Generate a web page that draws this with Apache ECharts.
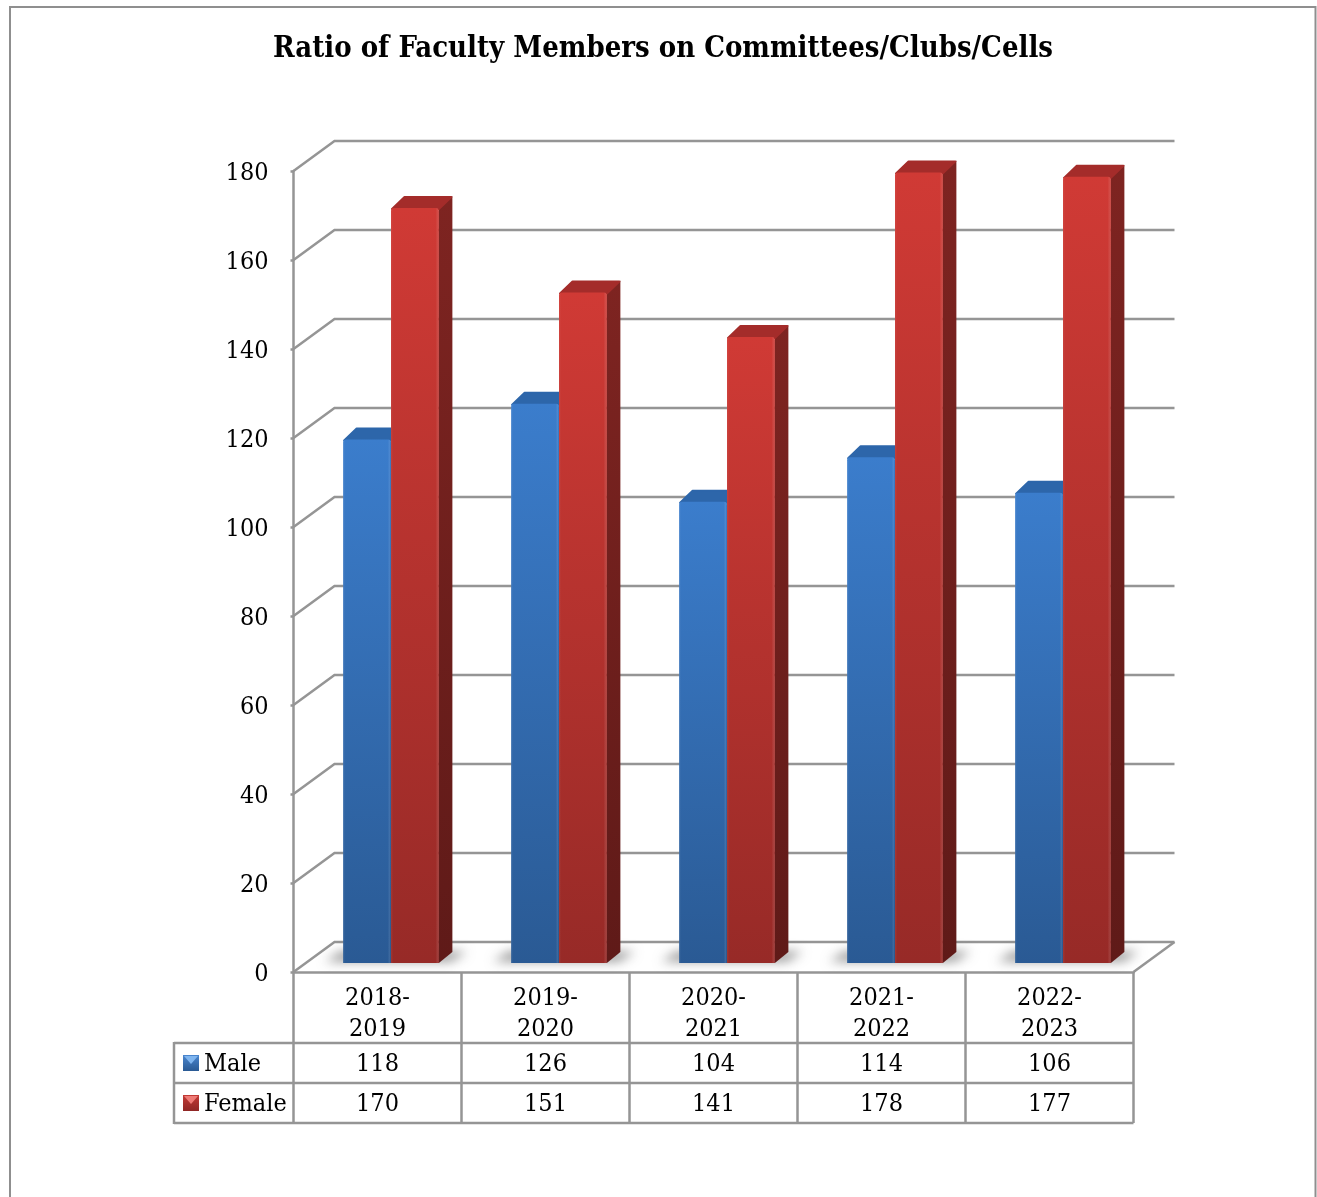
<!DOCTYPE html>
<html>
<head>
<meta charset="utf-8">
<style>
  html, body { margin: 0; padding: 0; background: #fff; }
  #chart { width: 1317px; height: 1197px; }
</style>
<script src="https://cdn.jsdelivr.net/npm/echarts@6/dist/echarts.min.js"></script>
</head>
<body>
<div id="chart"></div>
<script>
// Chart data
const chartTitle = 'Ratio of Faculty Members on Committees/Clubs/Cells';
const years = ['2018-\n2019', '2019-\n2020', '2020-\n2021', '2021-\n2022', '2022-\n2023'];
const male = [118, 126, 104, 114, 106];
const female = [170, 151, 141, 178, 177];
const yTicks = [0, 20, 40, 60, 80, 100, 120, 140, 160, 180];

// Shared styling
const FONT = '"DejaVu Serif Condensed", "DejaVu Serif", serif';
const TEXT_SIZE = 25;
const LINE = '#959595';
const LINE_W = 2.5;
const GRID = { left: 293.5, top: 171, width: 840, height: 801 };
const WALL_DX = 41, WALL_DY = 30;       // offset of the back wall from the front plane
const BAR_DX = 13.5, BAR_DY = 7.5;      // offset of the bar fronts from the front plane
const SIDE_DX = 13.5, SIDE_DY = 12;     // depth of each bar
const BAR_WIDTH = 0.285;                // share of a category band

const vGrad = (a, b) => ({ type: 'linear', x: 0, y: 0, x2: 0, y2: 1,
  colorStops: [{ offset: 0, color: a }, { offset: 1, color: b }] });
const edgeSheen = { type: 'linear', x: 0, y: 0, x2: 1, y2: 0, colorStops: [
  { offset: 0, color: 'rgba(255,255,255,0.06)' },
  { offset: 0.05, color: 'rgba(255,255,255,0)' },
  { offset: 0.93, color: 'rgba(255,255,255,0)' },
  { offset: 0.97, color: 'rgba(255,255,255,0.09)' },
  { offset: 1, color: 'rgba(0,0,0,0.05)' }] };

const palette = {
  male: { front: vGrad('#3b7dcc', '#2a5a94'), side: vGrad('#2b5c99', '#1f4472'), top: '#2d66aa' },
  female: { front: vGrad('#d03a35', '#972a27'), side: vGrad('#7e2421', '#5f1a18'), top: '#a42c2a' }
};

// Back wall, side wall and floor lines
function renderWalls(params, api) {
  const v = api.value(0);
  const [x0, y] = api.coord([0, v]);
  const band = api.size([1, 0])[0];
  const left = x0 - band / 2;
  const right = left + band * years.length;
  const style = { stroke: LINE, lineWidth: LINE_W, fill: null };
  const children = [{
    type: 'polyline',
    shape: { points: [[left, y], [left + WALL_DX, y - WALL_DY], [right + WALL_DX, y - WALL_DY]] },
    style
  }];
  if (v === 0) {
    children.push({
      type: 'line',
      shape: { x1: right + WALL_DX, y1: y - WALL_DY, x2: right, y2: y },
      style
    });
  }
  return { type: 'group', children };
}

// Soft floor shadows under the bars: only the blurred shadow of an off-canvas shape lands on the floor
function renderShadow(params, api) {
  const i = api.value(0);
  const [cx, y] = api.coord([i, 0]);
  const band = api.size([1, 0])[0];
  const w = band * BAR_WIDTH;
  const x = cx + BAR_DX;
  const bottom = y - BAR_DY - 3;
  const away = 3000;
  return {
    type: 'polygon',
    shape: { points: [
      [x - w - 18 - away, bottom], [x + w + 12 - away, bottom],
      [x + w + 28 - away, bottom - 10], [x - w - 2 - away, bottom - 10]
    ] },
    style: { fill: '#777', shadowColor: 'rgba(95,95,95,0.65)', shadowBlur: 11, shadowOffsetX: away }
  };
}

// One block of the pseudo-3D bar: side, top, front
function barRenderer(colors, slot) {
  return function (params, api) {
    const i = api.value(0);
    const v = api.value(1);
    const [cx, yTop] = api.coord([i, v]);
    const yBase = api.coord([i, 0])[1];
    const band = api.size([1, 0])[0];
    const w = band * BAR_WIDTH;
    const x = cx + BAR_DX + slot * w;
    const top = yTop - BAR_DY;
    const bottom = yBase - BAR_DY - 1.5;
    return {
      type: 'group',
      children: [
        {
          type: 'polygon',
          shape: { points: [[x + w, top], [x + w + SIDE_DX, top - SIDE_DY], [x + w + SIDE_DX, bottom - SIDE_DY + 1], [x + w, bottom]] },
          style: { fill: colors.side }
        },
        {
          type: 'polygon',
          shape: { points: [[x + 1, top + 1], [x + SIDE_DX, top - SIDE_DY + 1], [x + w + SIDE_DX - 1, top - SIDE_DY + 1], [x + w, top + 1]] },
          style: { fill: colors.top, stroke: colors.top, lineWidth: 2, lineJoin: 'round' }
        },
        {
          type: 'rect',
          shape: { x, y: top, width: w, height: bottom - top, r: [3, 3, 0, 0] },
          style: { fill: colors.front }
        },
        {
          type: 'rect',
          shape: { x, y: top, width: w, height: bottom - top, r: [3, 3, 0, 0] },
          style: { fill: edgeSheen }
        }
      ]
    };
  };
}

// Value rows of the data table, aligned with the category bands
function renderTableRow(params, api) {
  const i = api.value(0);
  const cx = api.coord([i, 0])[0];
  const base = api.coord([i, 0])[1];
  const common = { fill: '#000', font: TEXT_SIZE + 'px ' + FONT, align: 'center', verticalAlign: 'middle' };
  return {
    type: 'group',
    children: [
      { type: 'text', style: Object.assign({ x: cx, y: base + 92, text: String(male[i]) }, common) },
      { type: 'text', style: Object.assign({ x: cx, y: base + 132, text: String(female[i]) }, common) }
    ]
  };
}

// Legend key with the small bevel triangle
function legendKey(y, dark, light) {
  return [
    { type: 'rect', shape: { x: 183, y, width: 16, height: 16 }, style: { fill: vGrad(dark[0], dark[1]) }, z: 10 },
    { type: 'polygon', shape: { points: [[184, y + 1], [198, y + 1], [191, y + 9]] }, style: { fill: light }, z: 11 }
  ];
}

const tableLine = (x1, y1, x2, y2) => ({
  type: 'line', shape: { x1, y1, x2, y2 }, style: { stroke: LINE, lineWidth: LINE_W }, z: 5
});
const legendLabel = (y, text) => ({
  type: 'text', style: { x: 204, y, text, fill: '#000', font: TEXT_SIZE + 'px ' + FONT, verticalAlign: 'middle' }, z: 10
});

const chart = echarts.init(document.getElementById('chart'), null, { renderer: 'canvas' });
chart.setOption({
  animation: false,
  backgroundColor: '#fff',
  title: {
    text: chartTitle,
    left: 658,
    top: 44,
    textAlign: 'center',
    textVerticalAlign: 'middle',
    textStyle: { fontFamily: FONT, fontWeight: 'bold', fontSize: 29, color: '#000' }
  },
  grid: GRID,
  xAxis: {
    type: 'category',
    data: years,
    boundaryGap: true,
    axisLine: { lineStyle: { color: LINE, width: LINE_W } },
    axisTick: { show: true, alignWithLabel: false, length: 151, lineStyle: { color: LINE, width: LINE_W } },
    axisLabel: { color: '#000', fontFamily: FONT, fontSize: TEXT_SIZE, lineHeight: 31, margin: 11, interval: 0 }
  },
  yAxis: {
    type: 'value',
    min: 0,
    max: 180,
    interval: 20,
    splitLine: { show: false },
    axisLine: { show: true, lineStyle: { color: LINE, width: LINE_W } },
    axisTick: { show: true, length: 3, lineStyle: { color: LINE, width: LINE_W } },
    axisLabel: {
      margin: 25,
      formatter: '{tick|{value}}',
      rich: { tick: { color: '#000', fontFamily: FONT, fontSize: TEXT_SIZE, padding: [5, 0, 0, 0] } }
    }
  },
  series: [
    { name: 'Walls', type: 'custom', coordinateSystem: 'cartesian2d', renderItem: renderWalls, data: yTicks.map(v => [v]), encode: { y: 0 }, silent: true, z: 1, clip: false },
    { name: 'Shadow', type: 'custom', coordinateSystem: 'cartesian2d', renderItem: renderShadow, data: years.map((_, i) => [i]), encode: { x: 0 }, silent: true, z: 2, clip: false },
    { name: 'Male', type: 'custom', coordinateSystem: 'cartesian2d', renderItem: barRenderer(palette.male, -1), data: male.map((v, i) => [i, v]), encode: { x: 0, y: 1 }, z: 3, clip: false },
    { name: 'Female', type: 'custom', coordinateSystem: 'cartesian2d', renderItem: barRenderer(palette.female, 0), data: female.map((v, i) => [i, v]), encode: { x: 0, y: 1 }, z: 4, clip: false },
    { name: 'Table', type: 'custom', coordinateSystem: 'cartesian2d', renderItem: renderTableRow, data: years.map((_, i) => [i]), encode: { x: 0 }, silent: true, z: 5, clip: false }
  ],
  graphic: { elements: [
    // Page frame, open at the bottom edge
    { type: 'polyline', shape: { points: [[10, 1197], [10, 7], [1315.5, 7], [1315.5, 1197]] }, style: { stroke: '#8f8f8f', lineWidth: 2, fill: null } },
    // Horizontal rules and the left column of the data table
    tableLine(174, 1043, 1133.5, 1043),
    tableLine(174, 1083, 1133.5, 1083),
    tableLine(174, 1123, 1133.5, 1123),
    tableLine(174, 1042, 174, 1124),
    ...legendKey(1055, ['#4a86cf', '#2a5a94'], '#7fb5ef'),
    ...legendKey(1095, ['#c33a36', '#8f2725'], '#ef7b76'),
    legendLabel(1064, 'Male'),
    legendLabel(1104, 'Female')
  ] }
});
</script>
</body>
</html>
